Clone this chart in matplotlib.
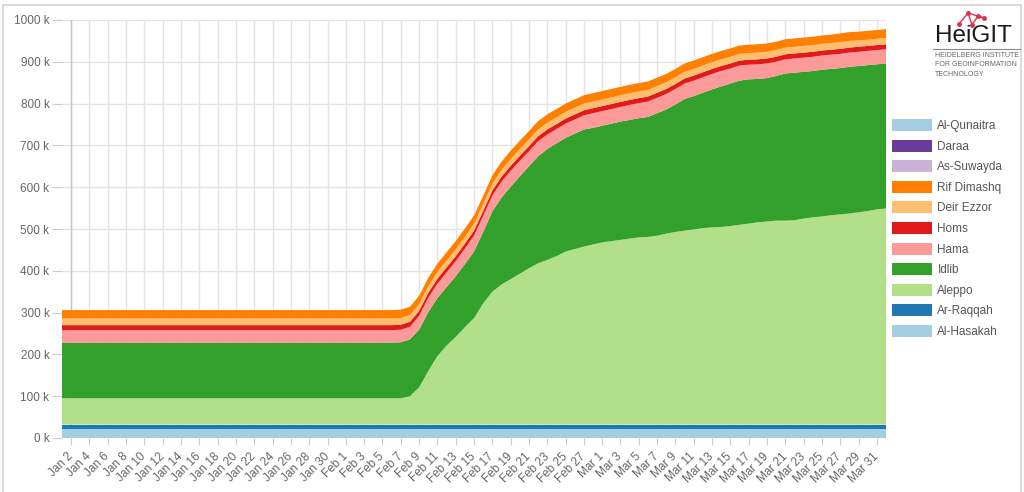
import matplotlib.pyplot as plt
from matplotlib.patches import Patch, Rectangle
from matplotlib.lines import Line2D
import pandas as pd

plt.rcParams['font.family'] = ['Liberation Sans', 'DejaVu Sans']

dates = pd.date_range("2023-01-01", "2023-04-01", freq="D")

# values in thousands, one per day (Jan 1 .. Apr 1)
al_hasakah = [22, 22, 22, 22, 22, 22, 22, 22, 22, 22, 22, 22, 22, 22, 22,
              22, 22, 22, 22, 22, 22, 22, 22, 22, 22, 22, 22, 22, 22, 22,
              22, 22, 22, 22, 22, 22, 22, 22, 22, 22, 22, 22, 22, 22, 22,
              22, 22, 22, 22, 22, 22, 22, 22, 22, 22, 22, 22, 22, 22, 22,
              22, 22, 22, 22, 22, 22, 22, 22, 22, 22, 22, 22, 22, 22, 22,
              22, 22, 22, 22, 22, 22, 22, 22, 22, 22, 22, 22, 22, 22, 22, 22]
ar_raqqah = [10, 10, 10, 10, 10, 10, 10, 10, 10, 10, 10, 10, 10, 10, 10,
             10, 10, 10, 10, 10, 10, 10, 10, 10, 10, 10, 10, 10, 10, 10,
             10, 10, 10, 10, 10, 10, 10, 10, 10, 10, 10, 10, 10, 10, 10,
             10, 10, 10, 10, 10, 10, 10, 10, 10, 10, 10, 10, 10, 10, 10,
             10, 10, 10, 10, 10, 10, 10, 10, 10, 10, 10, 10, 10, 10, 10,
             10, 10, 10, 10, 10, 10, 10, 10, 10, 10, 10, 10, 10, 10, 10, 10]
aleppo = [63, 63, 63, 63, 63, 63, 63, 63, 63, 63, 63, 63, 63, 63, 63,
          63, 63, 63, 63, 63, 63, 63, 63, 63, 63, 63, 63, 63, 63, 63,
          63, 63, 63, 63, 63, 63, 63, 63, 68, 89, 128, 164, 189, 210, 233,
          255, 290, 318, 335, 348, 361, 374, 386, 394, 403, 414, 420, 426, 431, 436,
          439, 442, 445, 448, 449, 452, 457, 461, 464, 467, 470, 472, 473, 475, 478,
          481, 484, 486, 488, 488, 489, 493, 496, 498, 501, 503, 505, 508, 511, 515, 517]
idlib = [133, 133, 133, 133, 133, 133, 133, 133, 133, 133, 133, 133, 133, 133, 133,
         133, 133, 133, 133, 133, 133, 133, 133, 133, 133, 133, 133, 133, 133, 133,
         133, 133, 133, 133, 133, 133, 133, 134, 136, 138, 141, 139, 140, 145, 151,
         159, 171, 192, 208, 221, 233, 244, 256, 265, 270, 272, 276, 280, 279, 279,
         281, 283, 284, 285, 287, 293, 297, 305, 315, 319, 324, 330, 336, 341, 345,
         345, 343, 343, 346, 352, 353, 351, 350, 351, 350, 350, 351, 350, 349, 347, 347]
hama = [30, 30, 30, 30, 30, 30, 30, 30, 30, 30, 30, 30, 30, 30, 30,
        30, 30, 30, 30, 30, 30, 30, 30, 30, 30, 30, 30, 30, 30, 30,
        30, 30, 30, 30, 30, 30, 30, 30, 30, 33, 34, 34, 35, 36, 37,
        38, 38, 38, 38, 38, 37, 36, 36, 35, 34, 34, 34, 34, 35, 35,
        35, 35, 36, 36, 37, 37, 37, 37, 37, 37, 37, 37, 37, 36, 36,
        35, 35, 35, 34, 34, 34, 34, 34, 34, 34, 34, 34, 34, 34, 34, 34]
homs = [12, 12, 12, 12, 12, 12, 12, 12, 12, 12, 12, 12, 12, 12, 12,
        12, 12, 12, 12, 12, 12, 12, 12, 12, 12, 12, 12, 12, 12, 12,
        12, 12, 12, 12, 12, 12, 12, 12, 12, 12, 12, 12, 12, 12, 12,
        12, 12, 12, 12, 12, 12, 12, 12, 12, 12, 12, 12, 12, 12, 12,
        12, 12, 12, 12, 12, 12, 12, 12, 12, 12, 12, 12, 12, 12, 12,
        12, 12, 12, 12, 12, 12, 12, 12, 12, 12, 12, 12, 12, 12, 12, 12]
deir_ezzor = [16, 16, 16, 16, 16, 16, 16, 16, 16, 16, 16, 16, 16, 16, 16,
              16, 16, 16, 16, 16, 16, 16, 16, 16, 16, 16, 16, 16, 16, 16,
              16, 16, 16, 16, 16, 16, 16, 16, 16, 16, 16, 16, 16, 16, 16,
              16, 16, 16, 16, 16, 16, 16, 16, 16, 16, 16, 16, 16, 16, 16,
              16, 16, 16, 16, 16, 16, 16, 16, 16, 16, 16, 16, 16, 16, 16,
              16, 16, 16, 16, 16, 16, 16, 16, 16, 16, 16, 16, 15, 15, 15, 15]
rif_dimashq = [20, 20, 20, 20, 20, 20, 20, 20, 20, 20, 20, 20, 20, 20, 20,
               20, 20, 20, 20, 20, 20, 20, 20, 20, 20, 20, 20, 20, 20, 20,
               20, 20, 20, 20, 20, 20, 20, 20, 20, 20, 20, 20, 20, 20, 20,
               20, 20, 20, 20, 20, 20, 20, 20, 20, 20, 20, 20, 20, 20, 20,
               20, 20, 20, 20, 20, 20, 20, 20, 20, 20, 20, 20, 20, 20, 20,
               20, 20, 20, 20, 20, 20, 20, 20, 20, 20, 21, 21, 21, 21, 21, 21]
as_suwayda = [0, 0, 0, 0, 0, 0, 0, 0, 0, 0, 0, 0, 0, 0, 0,
              0, 0, 0, 0, 0, 0, 0, 0, 0, 0, 0, 0, 0, 0, 0,
              0, 0, 0, 0, 0, 0, 0, 0, 0, 0, 0, 0, 0, 0, 0,
              0, 0, 0, 0, 0, 0, 0, 0, 0, 0, 0, 0, 0, 0, 0,
              0, 0, 0, 0, 0, 0, 0, 0, 0, 0, 0, 0, 0, 0, 0,
              0, 0, 0, 0, 0, 0, 0, 0, 0, 0, 0, 0, 0, 0, 0, 0]
daraa = list(as_suwayda)
al_qunaitra = list(as_suwayda)

names = ["Al-Hasakah", "Ar-Raqqah", "Aleppo", "Idlib", "Hama", "Homs",
         "Deir Ezzor", "Rif Dimashq", "As-Suwayda", "Daraa", "Al-Qunaitra"]
series = [al_hasakah, ar_raqqah, aleppo, idlib, hama, homs,
          deir_ezzor, rif_dimashq, as_suwayda, daraa, al_qunaitra]
colors = ["#a6cee3", "#1f78b4", "#b2df8a", "#33a02c", "#fb9a99", "#e31a1c",
          "#fdbf6f", "#ff7f00", "#cab2d6", "#6a3d9a", "#a6cee3"]

W, H = 1024, 492
fig = plt.figure(figsize=(W / 100, H / 100), dpi=100)
ax = fig.add_axes([62 / W, 54 / H, 824 / W, 418 / H])

ax.stackplot(dates, *series, colors=colors, labels=names, linewidth=0)
ax.set_xlim(dates[0], dates[-1])
ax.set_ylim(0, 1000)

# grid & axes
ax.set_axisbelow(True)
ax.grid(color="#e4e4e4", lw=1)
ax.axvline(dates[1], color="#c4c4c4", lw=1, zorder=0.6)
for s in ax.spines.values():
    s.set_visible(False)

ticks = dates[1:-1:2]
ax.set_xticks(ticks)
ax.set_xticklabels([f"{d:%b} {d.day}" for d in ticks], rotation=45,
                   ha="right", va="center", rotation_mode="anchor")
ax.set_yticks(range(0, 1001, 100))
ax.set_yticklabels([f"{v} k" for v in range(0, 1001, 100)])
ax.tick_params(axis="x", length=5, color="#cccccc", labelcolor="#666666",
               labelsize=8.5, pad=7)
ax.tick_params(axis="y", length=7, color="#cccccc", labelcolor="#666666",
               labelsize=8.5, pad=2)

# legend (top of stack first)
handles = [Patch(facecolor=c, edgecolor="none") for c in colors[::-1]]
fig.legend(handles, names[::-1], loc="upper left",
           bbox_to_anchor=(892 / W, 1 - 119 / H), frameon=False,
           fontsize=8.5, handlelength=3.4, handleheight=1.2,
           labelspacing=0.64, handletextpad=0.45, borderpad=0,
           borderaxespad=0, labelcolor="#555555")

# HeiGIT logo
fig.text(935 / W, 1 - 42 / H, "HeiGIT", fontsize=17.5, color="#1a1a1a",
         va="baseline")
fig.add_artist(Line2D([933 / W, 1020 / W], [1 - 49 / H, 1 - 49 / H],
                      color="#888888", lw=0.8))
fig.text(935 / W, 1 - 52 / H, "HEIDELBERG INSTITUTE\nFOR GEOINFORMATION\nTECHNOLOGY",
         fontsize=5, color="#666666", va="top", linespacing=1.5)
net_x = [959, 968, 972, 978, 984]
net_y = [24, 13, 25, 16, 18]
fig.add_artist(Line2D([x / W for x in net_x], [1 - y / H for y in net_y],
                      color="#e0314b", lw=1, marker="o", ms=2.5))
fig.add_artist(Line2D([968 / W, 984 / W], [1 - 13 / H, 1 - 18 / H],
                      color="#e0314b", lw=1))

# outer frame
fig.add_artist(Rectangle((3 / W, -0.05), 1018 / W, 1 - 5 / H + 0.05,
                         transform=fig.transFigure, fill=False,
                         ec="#dcdcdc", lw=1.5))

fig.savefig("out.png", dpi=100)
